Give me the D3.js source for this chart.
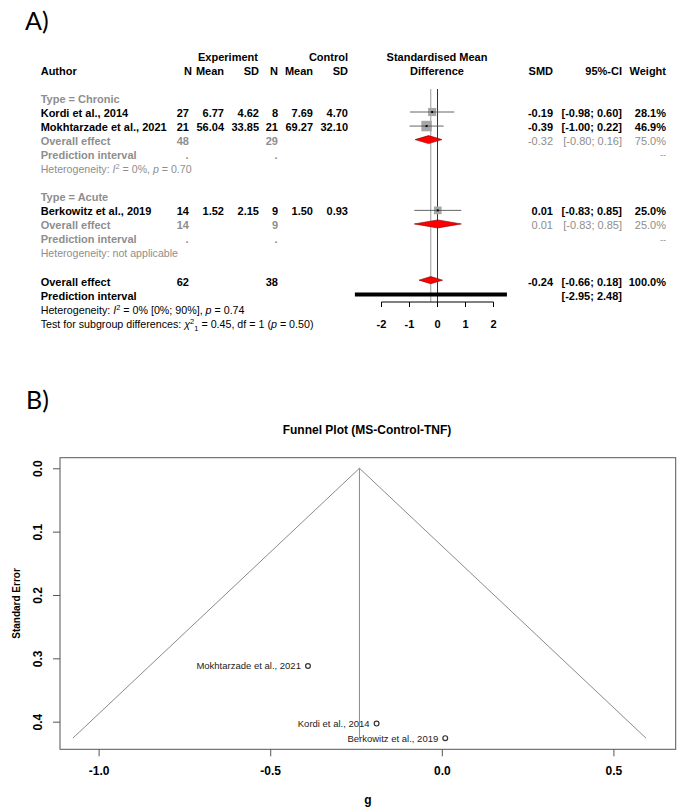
<!DOCTYPE html>
<html><head><meta charset="utf-8">
<script src="https://cdn.jsdelivr.net/npm/d3@7"></script>
<style>
html,body{margin:0;padding:0;background:#fff;}
svg{display:block;font-family:"Liberation Sans",Arial,sans-serif;}
</style></head>
<body>
<svg id="chart" width="685" height="810"></svg>
<script>
// ---------- Forest plot data ----------
const studies   = ["Kordi et al., 2014", "Mokhtarzade et al., 2021", "Berkowitz et al., 2019"];
const studyType = ["Chronic", "Chronic", "Acute"];
const expN      = [27, 21, 14];
const expMean   = [6.77, 56.04, 1.52];
const expSD     = [4.62, 33.85, 2.15];
const ctlN      = [8, 21, 9];
const ctlMean   = [7.69, 69.27, 1.50];
const ctlSD     = [4.70, 32.10, 0.93];
const smd       = [-0.19, -0.39, 0.01];
const ciLow     = [-0.98, -1.00, -0.83];
const ciHigh    = [0.60, 0.22, 0.85];
const weight    = [28.1, 46.9, 25.0];

const groups      = ["Chronic", "Acute"];
const groupExpN   = [48, 14];
const groupCtlN   = [29, 9];
const groupSMD    = [-0.32, 0.01];
const groupLow    = [-0.80, -0.83];
const groupHigh   = [0.16, 0.85];
const groupWeight = [75.0, 25.0];

const overallExpN = 62, overallCtlN = 38;
const overallSMD = -0.24, overallLow = -0.66, overallHigh = 0.18, overallWeight = 100.0;
const predLow = -2.95, predHigh = 2.48;
const forestTicks = [-2, -1, 0, 1, 2];

// ---------- Funnel plot data ----------
const funnelStudies = ["Kordi et al., 2014", "Mokhtarzade et al., 2021", "Berkowitz et al., 2019"];
const funnelG  = [-0.19, -0.39, 0.01];
const funnelSE = [0.403, 0.312, 0.426];
const funnelPooled = -0.24;
const funnelXTicks = [-1.0, -0.5, 0.0, 0.5];
const funnelYTicks = [0.0, 0.1, 0.2, 0.3, 0.4];

const svg = d3.select("#chart");
const GREY = "#8e8e8e";
const f2 = v => v.toFixed(2);
const f1 = v => v.toFixed(1);
const ciTxt = (a,b) => "[" + f2(a) + "; " + f2(b) + "]";

// panel labels
svg.append("text").attr("x", 25).attr("y", 30).attr("font-family", "Lato, 'Open Sans', sans-serif")
  .attr("font-size", 25).text("A)");
svg.append("text").attr("x", 26).attr("y", 409).attr("font-family", "Lato, 'Open Sans', sans-serif")
  .attr("font-size", 25).text("B)");

// ===== Forest plot =====
const rowY = d3.scaleLinear().domain([0, 19]).range([56.8, 323.8]);
const fx = d3.scaleLinear().domain([-2, 2]).range([381.5, 493.5]);
const F = svg.append("g").attr("font-size", 11);

function txt(x, row, s, opt = {}) {
  return F.append("text").attr("x", x).attr("y", rowY(row)).attr("dy", "0.36em")
    .attr("text-anchor", opt.anchor || "start")
    .attr("font-weight", opt.bold === false ? "normal" : "bold")
    .attr("font-size", opt.size || 11)
    .attr("fill", opt.fill || "#000").text(s);
}
function rich(x, row, segs, opt = {}) {
  const t = F.append("text").attr("x", x).attr("y", rowY(row)).attr("dy", "0.36em")
    .attr("font-size", opt.size || 10).attr("fill", opt.fill || "#000");
  let off = 0;
  segs.forEach(s => {
    const sp = t.append("tspan").text(s.t);
    let target = 0;
    if (s.sup) target = -4;
    if (s.sub) target = 3;
    if (target !== off) { sp.attr("dy", target - off); off = target; }
    if (s.dx) sp.attr("dx", s.dx);
    if (s.it) sp.attr("font-style", "italic");
    if (s.sup || s.sub) sp.attr("font-size", 7.5);
  });
  return t;
}

const colX = {author: 40.7, eN: 189, eMean: 224, eSD: 259, cN: 278, cMean: 313, cSD: 348, smd: 553, ci: 622, w: 666};

// headers
txt(228, 0, "Experiment", {anchor: "middle"});
txt(colX.cSD, 0, "Control", {anchor: "end"});
txt(437, 0, "Standardised Mean", {anchor: "middle"});
txt(colX.author, 1, "Author");
txt(192, 1, "N", {anchor: "end"});
txt(224, 1, "Mean", {anchor: "end"});
txt(colX.eSD, 1, "SD", {anchor: "end"});
txt(colX.cN, 1, "N", {anchor: "end"});
txt(colX.cMean, 1, "Mean", {anchor: "end"});
txt(colX.cSD, 1, "SD", {anchor: "end"});
txt(437, 1, "Difference", {anchor: "middle"});
txt(colX.smd, 1, "SMD", {anchor: "end"});
txt(colX.ci, 1, "95%-CI", {anchor: "end"});
txt(colX.w, 1, "Weight", {anchor: "end"});

// vertical reference lines
F.append("line").attr("x1", fx(overallSMD)).attr("x2", fx(overallSMD))
  .attr("y1", 89).attr("y2", 302).attr("stroke", "#9a9a9a").attr("stroke-width", 1);
F.append("line").attr("x1", fx(0)).attr("x2", fx(0))
  .attr("y1", 89).attr("y2", 302).attr("stroke", "#333").attr("stroke-width", 1);

const groupStart = [3, 10];
const hetTexts = [
  [{t: "Heterogeneity: "}, {t: "I", it: true}, {t: "2", sup: true}, {t: " = 0%, "}, {t: "p", it: true}, {t: " = 0.70"}],
  [{t: "Heterogeneity: not applicable"}]
];

function diamond(cx, lo, hi, y, h) {
  F.append("path").attr("d", `M${fx(lo)},${y} L${fx(cx)},${y - h} L${fx(hi)},${y} L${fx(cx)},${y + h} Z`)
    .attr("fill", "#ff0000").attr("stroke", "#7a0000").attr("stroke-width", 0.6);
}

const wMax = d3.max(weight);
const sqSize = d3.scaleSqrt().domain([0, wMax]).range([0, 10.5]);

groups.forEach((g, gi) => {
  const r0 = groupStart[gi];
  txt(colX.author, r0, "Type = " + g, {fill: GREY});
  const idx = studies.map((s, i) => i).filter(i => studyType[i] === g);
  idx.forEach((i, k) => {
    const r = r0 + 1 + k;
    txt(colX.author, r, studies[i]);
    txt(colX.eN, r, String(expN[i]), {anchor: "end"});
    txt(colX.eMean, r, f2(expMean[i]), {anchor: "end"});
    txt(colX.eSD, r, f2(expSD[i]), {anchor: "end"});
    txt(colX.cN, r, String(ctlN[i]), {anchor: "end"});
    txt(colX.cMean, r, f2(ctlMean[i]), {anchor: "end"});
    txt(colX.cSD, r, f2(ctlSD[i]), {anchor: "end"});
    txt(colX.smd, r, f2(smd[i]), {anchor: "end"});
    txt(colX.ci, r, ciTxt(ciLow[i], ciHigh[i]), {anchor: "end"});
    txt(colX.w, r, f1(weight[i]) + "%", {anchor: "end"});
    const y = rowY(r) - 1;
    const s = sqSize(weight[i]);
    F.append("rect").attr("x", fx(smd[i]) - s / 2).attr("y", y - s / 2).attr("width", s).attr("height", s)
      .attr("fill", "#a6a6a6");
    F.append("line").attr("x1", fx(ciLow[i])).attr("x2", fx(ciHigh[i])).attr("y1", y).attr("y2", y)
      .attr("stroke", "#555").attr("stroke-width", 0.9);
    F.append("rect").attr("x", fx(smd[i]) - 1).attr("y", y - 1).attr("width", 2).attr("height", 2).attr("fill", "#000");
  });
  const ro = r0 + 1 + idx.length;
  txt(colX.author, ro, "Overall effect", {fill: GREY});
  txt(colX.eN, ro, String(groupExpN[gi]), {anchor: "end", fill: GREY});
  txt(colX.cN, ro, String(groupCtlN[gi]), {anchor: "end", fill: GREY});
  txt(colX.smd, ro, f2(groupSMD[gi]), {anchor: "end", fill: GREY, bold: false});
  txt(colX.ci, ro, ciTxt(groupLow[gi], groupHigh[gi]), {anchor: "end", fill: GREY, bold: false});
  txt(colX.w, ro, f1(groupWeight[gi]) + "%", {anchor: "end", fill: GREY, bold: false});
  diamond(groupSMD[gi], groupLow[gi], groupHigh[gi], rowY(ro) - 1.5, 4);
  const rp = ro + 1;
  txt(colX.author, rp, "Prediction interval", {fill: GREY});
  txt(187, rp, ".", {anchor: "middle", fill: GREY});
  txt(276, rp, ".", {anchor: "middle", fill: GREY});
  txt(colX.w, rp, "--", {anchor: "end", fill: GREY, bold: false, size: 9});
  rich(colX.author, rp + 1, hetTexts[gi], {fill: GREY, size: 10.6});
});

// overall
txt(colX.author, 16, "Overall effect");
txt(colX.eN, 16, String(overallExpN), {anchor: "end"});
txt(colX.cN, 16, String(overallCtlN), {anchor: "end"});
txt(colX.smd, 16, f2(overallSMD), {anchor: "end"});
txt(colX.ci, 16, ciTxt(overallLow, overallHigh), {anchor: "end"});
txt(colX.w, 16, f1(overallWeight) + "%", {anchor: "end"});
diamond(overallSMD, overallLow, overallHigh, rowY(16) - 1.5, 3.6);
txt(colX.author, 17, "Prediction interval");
txt(colX.ci, 17, ciTxt(predLow, predHigh), {anchor: "end"});
F.append("line").attr("x1", fx(predLow)).attr("x2", fx(predHigh))
  .attr("y1", 294.5).attr("y2", 294.5).attr("stroke", "#000").attr("stroke-width", 4);
rich(colX.author, 18, [{t: "Heterogeneity: "}, {t: "I", it: true}, {t: "2", sup: true}, {t: " = 0% [0%; 90%], "}, {t: "p", it: true}, {t: " = 0.74"}], {size: 10.7});
rich(colX.author, 19, [{t: "Test for subgroup differences: "}, {t: "χ", it: true}, {t: "2", sup: true}, {t: "1", sub: true}, {t: " = 0.45, df = 1 ("}, {t: "p", it: true}, {t: " = 0.50)"}], {size: 10.7});

// forest axis
const fAxis = F.append("g").attr("transform", "translate(0,302)");
fAxis.append("line").attr("x1", fx(-2)).attr("x2", fx(2)).attr("stroke", "#000").attr("stroke-width", 1);
forestTicks.forEach(t => {
  fAxis.append("line").attr("x1", fx(t)).attr("x2", fx(t)).attr("y1", 0).attr("y2", 5).attr("stroke", "#000");
  fAxis.append("text").attr("x", fx(t)).attr("y", 22).attr("dy", "0.36em").attr("text-anchor", "middle")
    .attr("font-weight", "bold").attr("font-size", 11).text(String(t));
});

// ===== Funnel plot =====
const gx = d3.scaleLinear().domain([-1.1125, 0.6815]).range([60, 675.7]);
const gy = d3.scaleLinear().domain([-0.0167, 0.4436]).range([457.7, 749.3]);
const G = svg.append("g");

G.append("text").attr("x", 367).attr("y", 430).attr("dy", "0.36em").attr("text-anchor", "middle")
  .attr("font-weight", "bold").attr("font-size", 12).text("Funnel Plot (MS-Control-TNF)");

G.append("rect").attr("x", gx.range()[0]).attr("y", gy.range()[0])
  .attr("width", gx.range()[1] - gx.range()[0]).attr("height", gy.range()[1] - gy.range()[0])
  .attr("fill", "none").attr("stroke", "#555").attr("stroke-width", 1);

const xAxisG = G.append("g").attr("transform", `translate(0,${gy.range()[1]})`)
  .call(d3.axisBottom(gx).tickValues(funnelXTicks).tickFormat(d => d.toFixed(1)).tickSize(7).tickPadding(10));
xAxisG.select(".domain").remove();
xAxisG.selectAll("line").attr("stroke", "#555");
xAxisG.selectAll("text").attr("font-family", "Liberation Sans, Arial, sans-serif").attr("font-size", 12).attr("font-weight", "bold");

const yAxisG = G.append("g").attr("transform", `translate(${gx.range()[0]},0)`)
  .call(d3.axisLeft(gy).tickValues(funnelYTicks).tickFormat(d => d.toFixed(1)).tickSize(7).tickPadding(0));
yAxisG.select(".domain").remove();
yAxisG.selectAll("line").attr("stroke", "#555");
yAxisG.selectAll("text").attr("font-family", "Liberation Sans, Arial, sans-serif").attr("font-size", 12).attr("font-weight", "bold")
  .attr("text-anchor", "middle").attr("x", 0).attr("dy", 0)
  .attr("transform", "translate(-22,0) rotate(-90)").attr("dy", "0.36em");

G.append("text").attr("transform", `translate(16,${(gy.range()[0] + gy.range()[1]) / 2}) rotate(-90)`)
  .attr("text-anchor", "middle").attr("dy", "0.36em").attr("font-weight", "bold").attr("font-size", 10)
  .text("Standard Error");
G.append("text").attr("x", (gx.range()[0] + gx.range()[1]) / 2).attr("y", 800).attr("dy", "0.36em")
  .attr("text-anchor", "middle").attr("font-weight", "bold").attr("font-size", 12).text("g");

const maxSE = d3.max(funnelSE);
const funnelPts = [[funnelPooled - 1.96 * maxSE, maxSE], [funnelPooled, 0], [funnelPooled + 1.96 * maxSE, maxSE]];
G.append("path").attr("d", d3.line().x(d => gx(d[0])).y(d => gy(d[1]))(funnelPts))
  .attr("fill", "none").attr("stroke", "#8a8a8a").attr("stroke-width", 1);
G.append("line").attr("x1", gx(funnelPooled)).attr("x2", gx(funnelPooled)).attr("y1", gy(0)).attr("y2", gy(maxSE))
  .attr("stroke", "#8a8a8a").attr("stroke-width", 1);

funnelStudies.forEach((s, i) => {
  G.append("circle").attr("cx", gx(funnelG[i])).attr("cy", gy(funnelSE[i])).attr("r", 2.4)
    .attr("fill", "none").attr("stroke", "#333").attr("stroke-width", 1.2);
  G.append("text").attr("x", gx(funnelG[i]) - 7).attr("y", gy(funnelSE[i])).attr("dy", "0.36em")
    .attr("text-anchor", "end").attr("font-size", 9.5).attr("fill", "#222").text(s);
});
</script>
</body></html>
